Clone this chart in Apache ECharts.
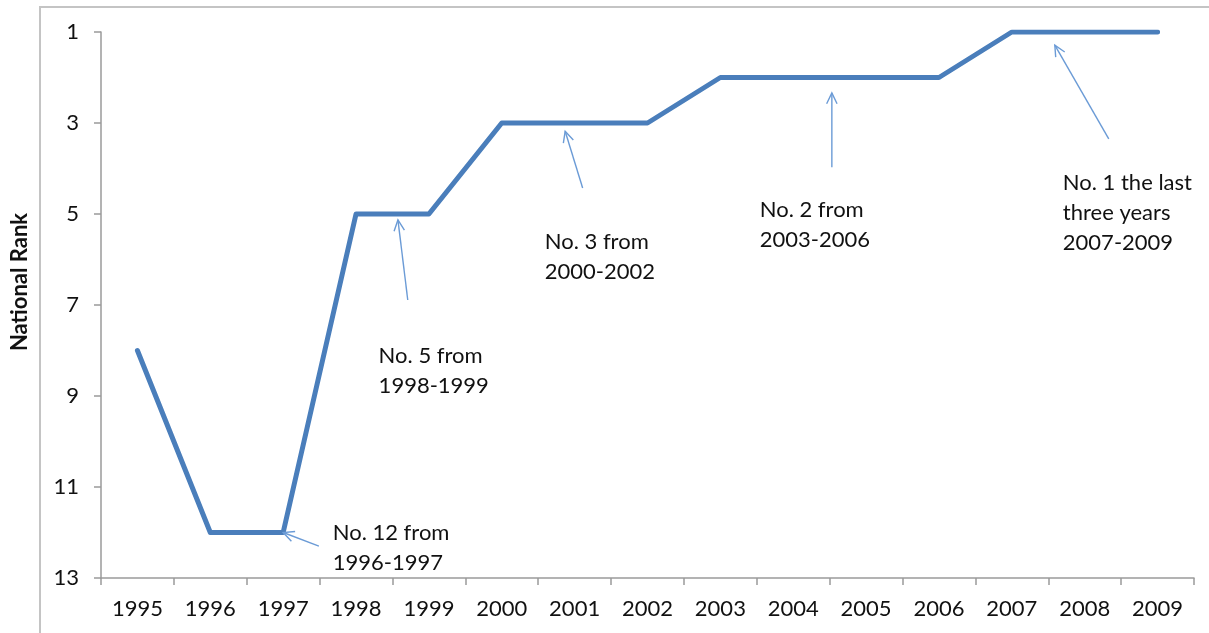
<!DOCTYPE html>
<html>
<head>
<meta charset="utf-8">
<script src="https://cdn.jsdelivr.net/npm/echarts@6/dist/echarts.min.js"></script>
<style>
  html, body { margin: 0; padding: 0; background: #fff; }
  #chart { width: 1209px; height: 633px; }
</style>
</head>
<body>
<div id="chart"></div>
<script>
// National rank by year (1 = best)
const years = ['1995','1996','1997','1998','1999','2000','2001','2002','2003','2004','2005','2006','2007','2008','2009'];
const ranks = [8, 12, 12, 5, 5, 3, 3, 3, 2, 2, 2, 2, 1, 1, 1];

// Callout notes: arrow head / tail and text anchor in data units [category index, rank]
const noteTexts = [
  'No. 12 from\n1996-1997',
  'No. 5 from\n1998-1999',
  'No. 3 from\n2000-2002',
  'No. 2 from\n2003-2006',
  'No. 1 the last\nthree years\n2007-2009'
];
const noteHeads = [[2.0, 12.0], [3.575, 5.13], [5.87, 3.18], [9.53, 2.34], [12.59, 1.29]];
const noteTails = [[2.49, 12.30], [3.71, 6.89], [6.11, 4.43], [9.53, 3.97], [13.33, 3.35]];
const noteAnchors = [[2.68, 11.68], [3.31, 7.79], [5.59, 5.29], [8.54, 4.58], [12.70, 3.99]];

const FONT = 'Lato, "Open Sans", sans-serif';
const TEXT = '#111111';
const chart = echarts.init(document.getElementById('chart'), null, { renderer: 'canvas' });

chart.setOption({
  animation: false,
  backgroundColor: '#ffffff',
  grid: { left: 101, right: 15, top: 32, bottom: 55, containLabel: false },
  xAxis: {
    type: 'category',
    data: years,
    boundaryGap: true,
    axisLine: { lineStyle: { color: '#9a9a9a', width: 1.5 } },
    axisTick: { show: true, length: 7, lineStyle: { color: '#9a9a9a', width: 1.5 } },
    axisLabel: { color: TEXT, fontFamily: FONT, fontSize: 22, margin: 20, interval: 0 },
    splitLine: { show: false }
  },
  yAxis: {
    type: 'value',
    inverse: true,
    min: 1,
    max: 13,
    interval: 2,
    axisLine: { show: true, lineStyle: { color: '#9a9a9a', width: 1.5 } },
    axisTick: { show: true, length: 7, lineStyle: { color: '#9a9a9a', width: 1.5 } },
    axisLabel: { color: TEXT, fontFamily: FONT, fontSize: 22, margin: 22 },
    splitLine: { show: false }
  },
  series: [{
    type: 'line',
    data: ranks,
    showSymbol: false,
    symbol: 'none',
    lineStyle: { color: '#4a7ebb', width: 5, join: 'round', cap: 'round' },
    z: 3
  }]
});

// Map a fractional category index / rank onto the grid
function toPixel(idx, rank) {
  const p0 = chart.convertToPixel({ gridIndex: 0 }, [0, rank]);
  const p1 = chart.convertToPixel({ gridIndex: 0 }, [1, rank]);
  return [p0[0] + (p1[0] - p0[0]) * idx, p0[1]];
}

const graphics = [];

// Outer chart frame (left and top edges)
graphics.push({
  type: 'polyline',
  shape: { points: [[40, 633], [40, 7], [1209, 7]] },
  style: { stroke: '#c4c4c4', lineWidth: 2, fill: null },
  silent: true
});

// Y-axis title
graphics.push({
  type: 'text',
  x: 20, y: 282,
  rotation: Math.PI / 2,
  style: {
    text: 'National Rank',
    fill: TEXT,
    font: 'bold 22px ' + FONT,
    align: 'center',
    verticalAlign: 'middle'
  },
  silent: true
});

// Callouts with open arrowheads
const ARROW = '#6b9bd6';
noteTexts.forEach((txt, i) => {
  const h = toPixel(noteHeads[i][0], noteHeads[i][1]);
  const t = toPixel(noteTails[i][0], noteTails[i][1]);
  const a = toPixel(noteAnchors[i][0], noteAnchors[i][1]);
  const ang = Math.atan2(t[1] - h[1], t[0] - h[0]);
  const L = 12, spread = Math.PI / 7;
  const w1 = [h[0] + L * Math.cos(ang + spread), h[1] + L * Math.sin(ang + spread)];
  const w2 = [h[0] + L * Math.cos(ang - spread), h[1] + L * Math.sin(ang - spread)];
  graphics.push({
    type: 'line',
    shape: { x1: t[0], y1: t[1], x2: h[0], y2: h[1] },
    style: { stroke: ARROW, lineWidth: 1.4 },
    silent: true, z: 5
  });
  graphics.push({
    type: 'polyline',
    shape: { points: [w1, h, w2] },
    style: { stroke: ARROW, lineWidth: 1.4, fill: null },
    silent: true, z: 5
  });
  graphics.push({
    type: 'text',
    x: a[0], y: a[1],
    style: {
      text: txt,
      fill: TEXT,
      font: '22px ' + FONT,
      lineHeight: 30,
      align: 'left',
      verticalAlign: 'top'
    },
    silent: true, z: 5
  });
});

chart.setOption({ graphic: graphics });
</script>
</body>
</html>
